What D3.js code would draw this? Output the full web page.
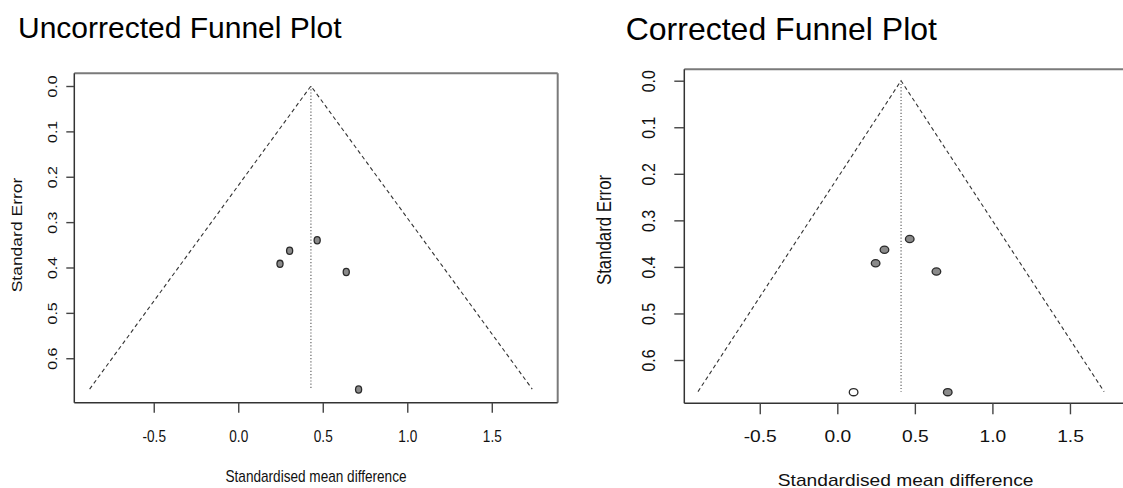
<!DOCTYPE html>
<html><head><meta charset="utf-8">
<script src="https://cdn.jsdelivr.net/npm/d3@7"></script>
<style>
body{margin:0;background:#fff;}
svg{display:block;}
text{font-family:"Liberation Sans",Arial,Helvetica,sans-serif;}
</style>
</head><body>
<svg id="c" width="1123" height="488"></svg>
<script>
// ---- data ----
const studySMD = [0.467, 0.304, 0.247, 0.639, 0.712];   // standardised mean differences
const studySE  = [0.340, 0.363, 0.392, 0.410, 0.669];   // standard errors
const filledSMD = [0.105];                                // trim-and-fill imputed study
const filledSE  = [0.669];
const pooledUncorrected = 0.430;
const pooledCorrected   = 0.411;
const funnelSE = 0.668;
const xTickValues = [-0.5, 0.0, 0.5, 1.0, 1.5];
const yTickValues = [0.0, 0.1, 0.2, 0.3, 0.4, 0.5, 0.6];
const titles = ["Uncorrected Funnel Plot", "Corrected Funnel Plot"];
const xTitle = "Standardised mean difference";
const yTitle = "Standard Error";

const svg = d3.select("#c");

function drawPanel(p) {
  const x = d3.scaleLinear().domain(p.xlim).range(p.xr);
  const y = d3.scaleLinear().domain(p.ylim).range(p.yr);
  const g = svg.append("g");

  // title
  svg.append("text").attr("x", p.titleX).attr("y", p.titleY)
    .attr("font-size", p.titleSize).attr("fill", "#000").text(p.title);

  // funnel
  const m = p.center, s = funnelSE;
  const line = d3.line().x(d => x(d[0])).y(d => y(d[1]));
  g.append("path")
    .attr("d", line([[m - 1.96 * s, s], [m, 0], [m + 1.96 * s, s]]))
    .attr("fill", "none").attr("stroke", "#333").attr("stroke-width", 1.1)
    .attr("stroke-dasharray", "4,3");
  g.append("line")
    .attr("x1", x(m)).attr("x2", x(m)).attr("y1", y(0)).attr("y2", y(s))
    .attr("stroke", "#555").attr("stroke-width", 1.1).attr("stroke-dasharray", "1.2,2");

  // points
  g.selectAll("ellipse.pt").data(p.pts).join("ellipse")
    .attr("class", "pt")
    .attr("cx", d => x(d.smd)).attr("cy", d => y(d.se))
    .attr("rx", 3.6 * p.sx).attr("ry", 3.6)
    .attr("fill", d => d.filled ? "#fff" : "#8a8a8a")
    .attr("stroke", "#2a2a2a").attr("stroke-width", 1.3);

  // box
  const [bx0, bx1] = p.xr, [by0, by1] = p.yr;
  g.append("line").attr("x1", bx0).attr("x2", bx1).attr("y1", by0).attr("y2", by0)
    .attr("stroke", "#7a7a7a").attr("stroke-width", 2);
  g.append("line").attr("x1", bx1).attr("x2", bx1).attr("y1", by0).attr("y2", by1)
    .attr("stroke", "#7a7a7a").attr("stroke-width", 2);
  g.append("line").attr("x1", bx0).attr("x2", bx1).attr("y1", by1).attr("y2", by1)
    .attr("stroke", "#333").attr("stroke-width", 1.5);
  g.append("line").attr("x1", bx0).attr("x2", bx0).attr("y1", by0).attr("y2", by1)
    .attr("stroke", "#333").attr("stroke-width", 1.5);

  // x axis
  const ax = g.append("g").attr("transform", `translate(0,${by1})`)
    .call(d3.axisBottom(x).tickValues(xTickValues).tickSize(p.xTickLen).tickFormat(d => d.toFixed(1)));
  ax.select(".domain").remove();
  ax.selectAll(".tick line").attr("stroke", "#444").attr("stroke-width", 1.4);
  ax.selectAll(".tick text").attr("y", p.xLabOff).attr("dy", null)
    .attr("transform", `scale(${p.sx},1)`).attr("font-size", 16).attr("fill", "#111");

  // y axis
  const ay = g.append("g").attr("transform", `translate(${bx0},0)`)
    .call(d3.axisLeft(y).tickValues(yTickValues).tickSize(p.yTickLen).tickFormat(d => d.toFixed(1)));
  ay.select(".domain").remove();
  ay.selectAll(".tick line").attr("stroke", "#444").attr("stroke-width", 1.4);
  ay.selectAll(".tick text").attr("x", 0).attr("y", 0).attr("dy", null)
    .attr("text-anchor", "middle")
    .attr("transform", `translate(${-p.yLabOff},0) scale(${p.sx},1) rotate(-90)`)
    .attr("font-size", 16).attr("fill", "#111");

  // axis titles
  svg.append("text").attr("text-anchor", "middle")
    .attr("transform", `translate(${p.xtX},${p.xtY}) scale(${p.sx},1)`)
    .attr("font-size", 16).attr("fill", "#111").text(xTitle);
  svg.append("text").attr("text-anchor", "middle")
    .attr("transform", `translate(${p.ytX},${p.ytY}) scale(${p.sx},1) rotate(-90)`)
    .attr("font-size", p.ytSize).attr("fill", "#111").text(yTitle);
}

const observed = studySMD.map((v, i) => ({smd: v, se: studySE[i], filled: false}));
const imputed = filledSMD.map((v, i) => ({smd: v, se: filledSE[i], filled: true}));

drawPanel({
  title: titles[0], titleX: 18, titleY: 38, titleSize: 30,
  sx: 0.85,
  xlim: [-0.97, 1.89], xr: [74.3, 557.7],
  ylim: [-0.028, 0.698], yr: [73.3, 402.7],
  center: pooledUncorrected,
  pts: observed,
  xTickLen: 10, xLabOff: 39,
  yTickLen: 8, yLabOff: 17.6,
  xtX: 316, xtY: 481.5,
  ytX: 21.7, ytY: 235, ytSize: 17.5
});

drawPanel({
  title: titles[1], titleX: 625.7, titleY: 39.5, titleSize: 32,
  sx: 1.2,
  xlim: [-0.9865, 1.88], xr: [684.3, 1128.9],
  ylim: [-0.0245, 0.693], yr: [69.3, 403.3],
  center: pooledCorrected,
  pts: observed.concat(imputed),
  xTickLen: 11, xLabOff: 39,
  yTickLen: 10, yLabOff: 29.5,
  xtX: 905.6, xtY: 485.5,
  ytX: 611, ytY: 230, ytSize: 16.8
});
</script>
</body></html>
